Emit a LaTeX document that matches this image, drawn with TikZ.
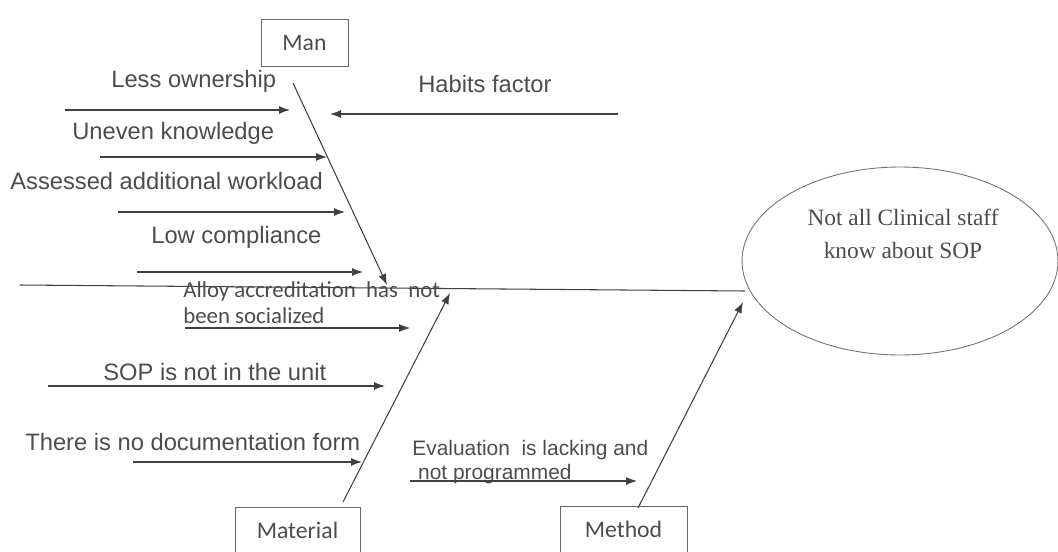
\documentclass[tikz,border=0pt]{standalone}
\usepackage{fontspec}
\setmainfont{Liberation Serif}
\newfontfamily\causefont{Liberation Sans}
\newfontfamily\boxfont{Carlito}
\usetikzlibrary{arrows.meta,shapes.geometric}

\begin{document}
\begin{tikzpicture}[
  x=0.02cm, y=-0.02cm,
  >={Latex[length=2.2mm,width=1.6mm]},
  every node/.style={text=black!70},
  cause/.style={font=\causefont\fontsize{13.5}{16}\selectfont, inner sep=0pt, anchor=base west},
  catbox/.style={draw=black!60, line width=0.5pt, font=\boxfont\fontsize{13.5}{16}\selectfont,
                 minimum height=0.94cm, inner sep=0pt},
  arr/.style={->, line width=0.6pt, draw=black!75},
  bone/.style={line width=0.6pt, draw=black!75},
]
  \useasboundingbox (0,0) rectangle (1058,551);
  \clip (0,0) rectangle (1058,551);

  % ---------- effect ----------
  \node[draw=black!55, line width=0.5pt, ellipse, minimum width=6.32cm, minimum height=3.76cm,
        inner sep=0pt] (effect) at (900,261) {};
  \node[font=\fontsize{13.3}{18.7}\selectfont, align=center, anchor=base, inner sep=0pt]
    (effectlabel) at (903,258) {Not all Clinical staff\\know about SOP};

  % ---------- category boxes ----------
  \node[catbox, minimum width=1.74cm] (man)      at (304.5,42.5)  {Man};
  \node[catbox, minimum width=2.50cm] (material) at (297.5,530.5) {Material};
  \node[catbox, minimum width=2.54cm] (method)   at (623.5,529.5) {Method};

  % ---------- main spine ----------
  \coordinate (tail) at (20,285);
  \coordinate (head) at (745,291);
  \draw[bone] (tail) -- (head);

  % ---------- Man branch ----------
  \coordinate (manS) at (293,83);
  \coordinate (manE) at (387,285);
  \draw[arr] (manS) -- (manE);
  \node[cause] (lessown)  at (111,87)  {Less ownership};
  \node[cause] (uneven)   at (72,139)  {Uneven knowledge};
  \node[cause] (assessed) at (10,189)  {Assessed additional workload};
  \node[cause] (lowcomp)  at (151,243) {Low compliance};
  \node[cause] (habits)   at (418,92)  {Habits factor};
  \coordinate (lessownS) at (65,110);   \coordinate (lessownE) at (290,110);
  \coordinate (unevenS) at (100,157);   \coordinate (unevenE) at (327,157);
  \coordinate (assessedS) at (118,212); \coordinate (assessedE) at (345,212);
  \coordinate (lowcompS) at (137,272);  \coordinate (lowcompE) at (363,272);
  \coordinate (habitsS) at (618,114);   \coordinate (habitsE) at (330,114);
  \draw[arr] (lessownS) -- (lessownE);
  \draw[arr] (unevenS) -- (unevenE);
  \draw[arr] (assessedS) -- (assessedE);
  \draw[arr] (lowcompS) -- (lowcompE);
  \draw[arr] (habitsS) -- (habitsE);

  % ---------- Material branch ----------
  \coordinate (materialS) at (343,502);
  \coordinate (materialE) at (450,293);
  \draw[arr] (materialS) -- (materialE);
  \node[cause, font=\boxfont\fontsize{13}{14.7}\selectfont, align=left]
    (alloy) at (183,323) {Alloy accreditation\ \ has\ \ not\\been socialized};
  \node[cause] (sopnot) at (103,380) {SOP is not in the unit};
  \node[cause] (nodoc)  at (25,450)  {There is no documentation form};
  \coordinate (alloyS) at (185,328);  \coordinate (alloyE) at (410,328);
  \coordinate (sopnotS) at (48,386);  \coordinate (sopnotE) at (385,386);
  \coordinate (nodocS) at (133,462);  \coordinate (nodocE) at (362,462);
  \draw[arr] (alloyS) -- (alloyE);
  \draw[arr] (sopnotS) -- (sopnotE);
  \draw[arr] (nodocS) -- (nodocE);

  % ---------- Method branch ----------
  \coordinate (methodS) at (638,508);
  \coordinate (methodE) at (743,302);
  \draw[arr] (methodS) -- (methodE);
  \node[cause, font=\causefont\fontsize{11.9}{13.6}\selectfont, align=left]
    (evaluation) at (412,479) {Evaluation\ \ is lacking and\\\ not programmed};
  \coordinate (evaluationS) at (410,481); \coordinate (evaluationE) at (637,481);
  \draw[arr] (evaluationS) -- (evaluationE);
\end{tikzpicture}
\end{document}
